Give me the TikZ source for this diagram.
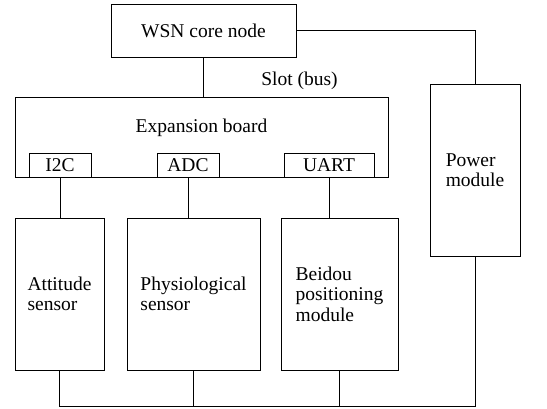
\documentclass[tikz,border=0pt]{standalone}
\usepackage{fontspec}
\setmainfont{Liberation Serif}
\begin{document}
\begin{tikzpicture}[x=1pt,y=-1pt,
  txt/.style={font=\fontsize{19.5}{20.5}\selectfont},
  box/.style={draw,line width=0.9pt,rectangle,inner sep=0pt,align=left,txt},
  wire/.style={line width=0.9pt}]
\useasboundingbox (0,0) rectangle (547,409);
\node[box,minimum width=185pt,minimum height=53pt] (core) at (203.5,30.5) {WSN core node};
\node[box,minimum width=373pt,minimum height=80pt,
  label={[anchor=north,yshift=-19pt,txt]north:Expansion board}] (exp) at (201.5,137) {};
\node[box,minimum width=62pt,minimum height=24pt] (i2c) at (60,165) {I2C};
\node[box,minimum width=62pt,minimum height=24pt] (adc) at (188,165) {ADC};
\node[box,minimum width=90pt,minimum height=24pt] (uart) at (329,165) {UART};
\node[box,minimum width=90pt,minimum height=172pt] (pwr) at (475,170) {Power\\module};
\node[box,minimum width=89pt,minimum height=152pt] (att) at (59.5,294) {Attitude\\sensor};
\node[box,minimum width=133pt,minimum height=152pt] (phys) at (193.5,294) {Physiological\\sensor};
\node[box,minimum width=117pt,minimum height=152pt] (bei) at (339.5,294) {Beidou\\positioning\\module};
\coordinate (bus) at (0,406);
\draw[wire] (core.south) -- node[pos=0.6,right=54pt,txt] (slot) {Slot (bus)} (core.south |- exp.north);
\draw[wire] (core.east) -| (pwr.north);
\draw[wire] (i2c.south) -- (i2c.south |- att.north);
\draw[wire] (adc.south) -- (adc.south |- phys.north);
\draw[wire] (uart.south) -- (uart.south |- bei.north);
\draw[wire] (att.south) -- (att.south |- bus) -| (pwr.south);
\draw[wire] (phys.south) -- (phys.south |- bus);
\draw[wire] (bei.south) -- (bei.south |- bus);
\end{tikzpicture}
\end{document}
